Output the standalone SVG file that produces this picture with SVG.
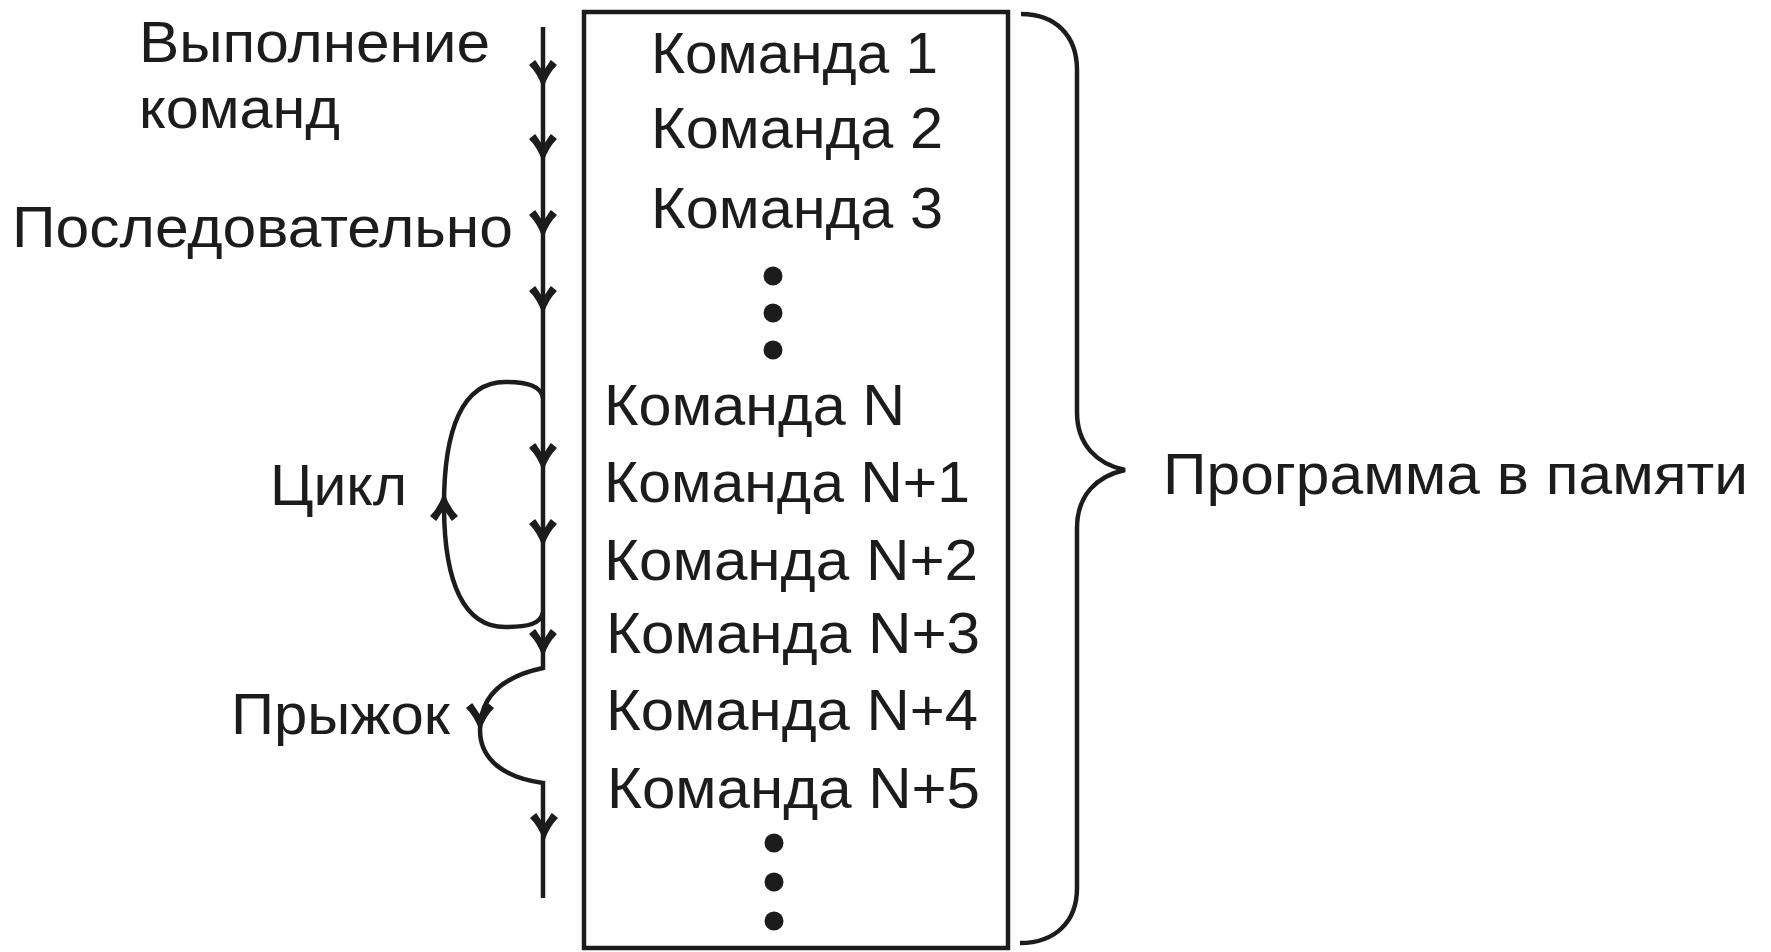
<svg xmlns="http://www.w3.org/2000/svg" width="1771" height="952" viewBox="0 0 1771 952">
  <style>
    .t { font-family: "Liberation Sans", Arial, sans-serif; font-size: 58px; fill: #1c1c1c; }
    .ln { fill: none; stroke: #1c1c1c; stroke-width: 4.5; }
    .box { fill: #ffffff; stroke: #1c1c1c; stroke-width: 4.5; }
    .dot { fill: #1c1c1c; }
    .ah { fill: #1c1c1c; stroke: #1c1c1c; stroke-width: 1.5; stroke-linejoin: round; }
  </style>
  <defs>
    <path id="arrow" class="ah" d="M0,3 C-3,-6 -7,-13 -13,-19 L-8,-23 C-5,-18 -2,-14 0,-11 C2,-14 5,-18 8,-23 L13,-19 C7,-13 3,-6 0,3 Z"/>
  </defs>
  <rect width="1771" height="952" fill="#ffffff"/>

  <g id="program-box">
    <rect class="box" x="584" y="12" width="424" height="936"/>
    <text class="t" x="651" y="73" textLength="287" lengthAdjust="spacingAndGlyphs">Команда 1</text>
    <text class="t" x="651" y="148" textLength="292" lengthAdjust="spacingAndGlyphs">Команда 2</text>
    <text class="t" x="651" y="228" textLength="292" lengthAdjust="spacingAndGlyphs">Команда 3</text>
    <circle class="dot" cx="773" cy="276" r="9.5"/>
    <circle class="dot" cx="773" cy="313" r="9.5"/>
    <circle class="dot" cx="773" cy="350" r="9.5"/>
    <text class="t" x="604" y="425" textLength="301" lengthAdjust="spacingAndGlyphs">Команда N</text>
    <text class="t" x="604" y="502" textLength="366" lengthAdjust="spacingAndGlyphs">Команда N+1</text>
    <text class="t" x="604" y="580" textLength="374" lengthAdjust="spacingAndGlyphs">Команда N+2</text>
    <text class="t" x="606" y="653" textLength="374" lengthAdjust="spacingAndGlyphs">Команда N+3</text>
    <text class="t" x="606" y="730" textLength="372" lengthAdjust="spacingAndGlyphs">Команда N+4</text>
    <text class="t" x="607" y="808" textLength="373" lengthAdjust="spacingAndGlyphs">Команда N+5</text>
    <circle class="dot" cx="774" cy="843" r="9.5"/>
    <circle class="dot" cx="774" cy="882" r="9.5"/>
    <circle class="dot" cx="774" cy="921" r="9.5"/>
  </g>

  <g id="label-execution">
    <text class="t" x="139" y="62" textLength="351" lengthAdjust="spacingAndGlyphs">Выполнение</text>
    <text class="t" x="139" y="128" textLength="201" lengthAdjust="spacingAndGlyphs">команд</text>
  </g>
  <g id="label-sequential">
    <text class="t" x="12" y="247" textLength="501" lengthAdjust="spacingAndGlyphs">Последовательно</text>
  </g>
  <g id="label-loop">
    <text class="t" x="270" y="505" textLength="137" lengthAdjust="spacingAndGlyphs">Цикл</text>
  </g>
  <g id="label-jump">
    <text class="t" x="231" y="734" textLength="219" lengthAdjust="spacingAndGlyphs">Прыжок</text>
  </g>
  <g id="label-program">
    <path class="ln" d="M1021,14 C1055,14 1077,35 1077,70 L1077,412 C1077,445 1097,464 1125,470 C1097,476 1077,495 1077,528 L1077,888 C1077,922 1055,943 1020,943"/>
    <text class="t" x="1163" y="494" textLength="585" lengthAdjust="spacingAndGlyphs">Программа в памяти</text>
  </g>

  <g id="connectors">
    <path class="ln" d="M543,27 L543,668 C505,676 480,695 480,730 C480,760 505,778 543,783 L543,898"/>
    <path class="ln" d="M543,398 C541,386 528,382 505,382 C462,382 444,430 444,505 C444,585 465,627 505,627 C528,627 541,624 543,612"/>
    <use href="#arrow" transform="translate(543,84)"/>
    <use href="#arrow" transform="translate(543,158)"/>
    <use href="#arrow" transform="translate(543,234)"/>
    <use href="#arrow" transform="translate(543,310)"/>
    <use href="#arrow" transform="translate(543,467)"/>
    <use href="#arrow" transform="translate(543,543)"/>
    <use href="#arrow" transform="translate(543,653)"/>
    <use href="#arrow" transform="translate(444,497) rotate(180)"/>
    <use href="#arrow" transform="translate(480,727)"/>
    <use href="#arrow" transform="translate(544,837)"/>
  </g>
</svg>
